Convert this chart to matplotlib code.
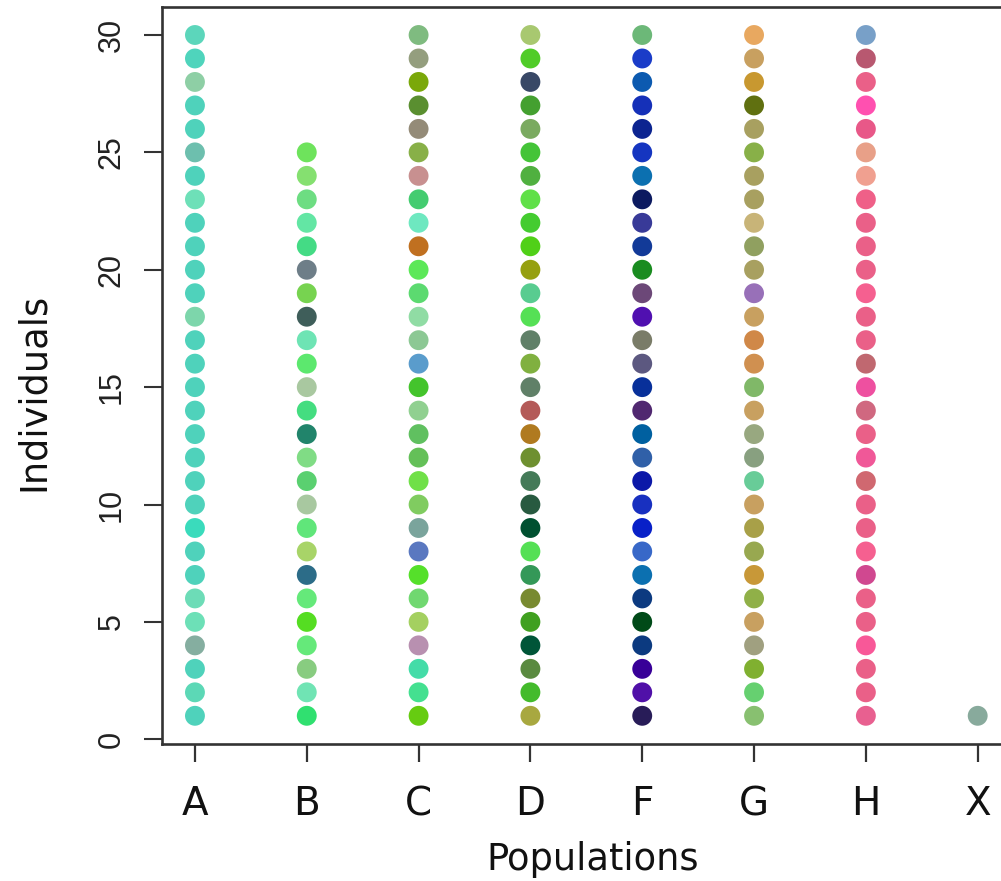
import matplotlib
matplotlib.use("Agg")
import matplotlib.pyplot as plt

populations = ["A", "B", "C", "D", "F", "G", "H", "X"]
counts = [30, 25, 30, 30, 30, 30, 30, 1]

# colours listed from individual 1 (bottom) upward
col_A = ["#4fd2bb", "#5cd8b6", "#4fd2bb", "#85aea0", "#6de0b7", "#6ddcb7", "#4fd2bb", "#4fd2bb",
         "#3adbbc", "#4fd2bb", "#4fd2bb", "#4fd2bb", "#4fd2bb", "#4fd2bb", "#4fd2bb", "#4fd2bb",
         "#4fd2bb", "#7dd6ab", "#4fd2bb", "#4fd2bb", "#4fd2bb", "#4fd2bb", "#6ee0b8", "#4fd2bb",
         "#6dbfae", "#4fd2bb", "#4fd2bb", "#8ecfa5", "#4fd4bc", "#5cd6bb"]
col_B = ["#30e070", "#70e4b4", "#88cc80", "#65e97a", "#55dd22", "#65e97a", "#2c6c88", "#a8d468",
         "#60e67a", "#a8c8a0", "#5ad070", "#80dc85", "#21846b", "#44dd80", "#a9c8a0", "#5ce86e",
         "#6ee4b4", "#3f5e5a", "#77d350", "#6e7e88", "#44db85", "#63e6a4", "#6ddd82", "#85e070",
         "#6ee35c"]
col_C = ["#66cc11", "#44e090", "#44dca8", "#b890b0", "#a4d060", "#70d870", "#55e02a", "#5a78c0",
         "#7aa49c", "#80cc60", "#70e048", "#64c058", "#60c060", "#90d090", "#44c42c", "#5a9ccc",
         "#8cc894", "#90dca4", "#5cda70", "#5ce858", "#c07020", "#6ee8c0", "#44cc70", "#c89090",
         "#88b048", "#948b78", "#5a8f30", "#7aa80a", "#949e7e", "#7fbb80"]
col_D = ["#a8a840", "#44bb2c", "#5a8a40", "#005538", "#40a020", "#788a30", "#349858", "#55e055",
         "#005030", "#285a40", "#447a58", "#6e9030", "#b07a20", "#b45a58", "#608068", "#80b040",
         "#608068", "#55e055", "#58cc90", "#96a010", "#50d018", "#44cc30", "#60e048", "#50b040",
         "#44c438", "#7aaa60", "#44a030", "#384866", "#50cc28", "#a8c870"]
col_F = ["#281c58", "#5010a8", "#380098", "#0c3a80", "#004a18", "#0c3a80", "#0c70b0", "#3868c8",
         "#0820c8", "#1830c0", "#0c18a8", "#3060a8", "#0060a0", "#502870", "#08309a", "#5c5880",
         "#7a7c68", "#5010b0", "#6c4878", "#1a8c20", "#123a98", "#383a98", "#0c1a60", "#0c70b0",
         "#1535c0", "#0c2490", "#1530b8", "#0c5ab0", "#1a3cc8", "#6cb878"]
col_G = ["#88c070", "#66d070", "#80b030", "#a0a080", "#c8a060", "#90b048", "#c89838", "#98a850",
         "#a8a048", "#c8a060", "#68cc98", "#88a080", "#98a880", "#c8a060", "#80b868", "#d09050",
         "#d08848", "#c8a060", "#9870b8", "#a8a060", "#90a060", "#c8b478", "#a8a060", "#a8a060",
         "#88b048", "#a8a060", "#607010", "#c89830", "#c8a060", "#e8a860"]
col_H = ["#e86090", "#ea6088", "#ea6088", "#f85898", "#ea6088", "#ea6088", "#d04890", "#f56090",
         "#ea6088", "#ea6088", "#d06870", "#f05898", "#ea6088", "#d06880", "#ee50a0", "#c06870",
         "#ea6088", "#ea6088", "#f56090", "#ea6088", "#ea6088", "#ea6088", "#ef6088", "#f0a090",
         "#e8a088", "#e85888", "#ff50b0", "#ea6088", "#b85870", "#78a0c8"]
col_X = ["#88aa9c"]

colours = [col_A, col_B, col_C, col_D, col_F, col_G, col_H, col_X]
y_ticks = [0, 5, 10, 15, 20, 25, 30]

W, H = 1001, 881
fig = plt.figure(figsize=(W / 100, H / 100), dpi=100)
left, right, top, bottom = 162.3, 1009.0, 7.3, 743.5
ax = fig.add_axes([left / W, 1 - bottom / H, (right - left) / W, (bottom - top) / H])

for i, (n, cols) in enumerate(zip(counts, colours)):
    xs = [i + 1] * n
    ys = list(range(1, n + 1))
    ax.scatter(xs, ys, s=205, c=cols, edgecolors="none", zorder=3)

ax.set_xlim(0.708, 8.28)
ax.set_ylim(-0.18, 31.18)
ax.set_xticks(range(1, len(populations) + 1))
ax.set_xticklabels(populations, fontfamily="DejaVu Sans")
ax.set_yticks(y_ticks)
ax.set_yticklabels([str(v) for v in y_ticks], rotation=90, va="center",
                   fontfamily="Liberation Sans")

axcol = "#333333"
for s in ax.spines.values():
    s.set_linewidth(1.9)
    s.set_color(axcol)

ax.tick_params(axis="y", length=13, width=1.5, color=axcol, pad=12.5, labelsize=22,
               labelcolor="#222222")
ax.tick_params(axis="x", length=13, width=1.6, color=axcol, pad=17, labelsize=28,
               labelcolor="#111111")

ax.set_xlabel("Populations", fontsize=26.5, color="#111111")
ax.xaxis.label.set_va("baseline")
ax.xaxis.set_label_coords(0.5081, -0.1718)

ax.set_ylabel("Individuals", fontsize=26.5, color="#111111")
ax.yaxis.label.set_va("baseline")
ax.yaxis.set_label_coords(-0.1397, 0.4775)

fig.savefig("out.png", dpi=100)
